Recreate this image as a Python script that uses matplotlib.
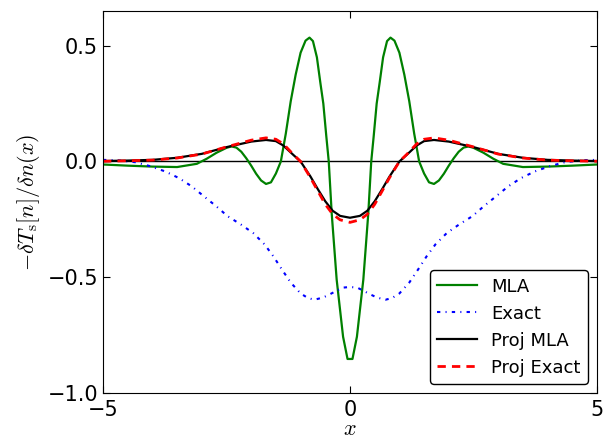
import numpy as np
import matplotlib
matplotlib.use("Agg")
import matplotlib.pyplot as plt

plt.rcParams['mathtext.fontset'] = 'cm'

# MLA functional derivative
x_mla = [-5.0, -4.5, -4.0, -3.5, -3.1, -2.9, -2.7, -2.5, -2.4, -2.3, -2.2, -2.1,
         -2.0, -1.9, -1.8, -1.7, -1.6, -1.5, -1.4, -1.3, -1.2, -1.1, -1.0, -0.9,
         -0.82, -0.75, -0.67, -0.6, -0.54, -0.48, -0.43, -0.37, -0.27, -0.14, -0.05,
         0.05, 0.14, 0.27, 0.37, 0.43, 0.48, 0.54, 0.6, 0.67, 0.75, 0.82,
         0.9, 1.0, 1.1, 1.2, 1.3, 1.4, 1.5, 1.6, 1.7, 1.8, 1.9, 2.0,
         2.1, 2.2, 2.3, 2.4, 2.5, 2.7, 2.9, 3.1, 3.5, 4.0, 4.5, 5.0]
y_mla = [-0.013, -0.018, -0.022, -0.024, -0.010, 0.012, 0.038, 0.059, 0.065, 0.060, 0.042, 0.014,
         -0.018, -0.053, -0.082, -0.097, -0.090, -0.052, 0.0, 0.12, 0.26, 0.375, 0.47, 0.522,
         0.535, 0.52, 0.45, 0.34, 0.25, 0.11, 0.0, -0.225, -0.51, -0.757, -0.853,
         -0.853, -0.757, -0.51, -0.225, 0.0, 0.11, 0.25, 0.34, 0.45, 0.52, 0.535,
         0.522, 0.47, 0.375, 0.26, 0.12, 0.0, -0.052, -0.090, -0.097, -0.082, -0.053, -0.018,
         0.014, 0.042, 0.060, 0.065, 0.059, 0.038, 0.012, -0.010, -0.024, -0.022, -0.018, -0.013]

# exact functional derivative
x_ex = [-5.0, -4.7, -4.35, -4.05, -3.74, -3.46, -3.2, -2.96, -2.71, -2.48, -2.21, -1.96,
        -1.73, -1.55, -1.38, -1.2, -1.0, -0.85, -0.72, -0.55, -0.42, -0.15, 0.0,
        0.15, 0.42, 0.55, 0.72, 0.85, 1.0, 1.2, 1.38, 1.55, 1.73, 1.96, 2.21,
        2.48, 2.71, 2.96, 3.2, 3.46, 3.74, 4.05, 4.35, 4.7, 5.0]
y_ex = [0.007, 0.005, -0.003, -0.020, -0.043, -0.072, -0.108, -0.150, -0.193, -0.236, -0.272, -0.309,
        -0.358, -0.410, -0.466, -0.523, -0.570, -0.590, -0.597, -0.588, -0.575, -0.545, -0.542,
        -0.545, -0.575, -0.588, -0.597, -0.590, -0.570, -0.523, -0.466, -0.410, -0.358, -0.309, -0.272,
        -0.236, -0.193, -0.150, -0.108, -0.072, -0.043, -0.020, -0.003, 0.005, 0.007]

# projected derivatives
x_proj = [-5.0, -4.5, -4.0, -3.5, -3.0, -2.5, -2.0, -1.7, -1.5, -1.35, -1.15, -1.0,
          -0.8, -0.65, -0.5, -0.35, -0.2, 0.0, 0.2, 0.35, 0.5, 0.65, 0.8,
          1.0, 1.15, 1.35, 1.5, 1.7, 2.0, 2.5, 3.0, 3.5, 4.0, 4.5, 5.0]
y_pmla = [0.002, 0.004, 0.007, 0.016, 0.033, 0.062, 0.086, 0.093, 0.088, 0.069, 0.029, 0.0,
          -0.065, -0.12, -0.172, -0.213, -0.235, -0.243, -0.235, -0.213, -0.172, -0.12, -0.065,
          0.0, 0.029, 0.069, 0.088, 0.093, 0.086, 0.062, 0.033, 0.016, 0.007, 0.004, 0.002]
y_pex = [0.001, 0.003, 0.006, 0.015, 0.032, 0.063, 0.092, 0.102, 0.096, 0.076, 0.031, 0.0,
         -0.07, -0.128, -0.185, -0.228, -0.252, -0.263, -0.252, -0.228, -0.185, -0.128, -0.07,
         0.0, 0.031, 0.076, 0.096, 0.102, 0.092, 0.063, 0.032, 0.015, 0.006, 0.003, 0.001]

fig = plt.figure(figsize=(6.15, 4.37), dpi=100)
ax = fig.add_axes([0.1675, 0.1007, 0.8032, 0.8741])

ax.axhline(0, color='k', lw=1)
ax.plot(x_mla, y_mla, color='g', lw=1.6, label='MLA')
ax.plot(x_ex, y_ex, color='b', lw=1.5, linestyle=(0, (1.6, 2.5, 0.5, 2.5)), label='Exact')
ax.plot(x_proj, y_pmla, color='k', lw=1.6, label='Proj MLA')
ax.plot(x_proj, y_pex, color='r', lw=2, linestyle=(0, (3, 2.2)), label='Proj Exact')

ax.set_xlim(-5, 5)
ax.set_ylim(-1.0, 0.65)
ax.set_xticks([-5, 0, 5])
ax.set_yticks([-1.0, -0.5, 0.0, 0.5])
ax.tick_params(direction='in', top=True, right=True, labelsize=15, length=5)
ax.tick_params(axis='x', pad=5)
ax.set_xlabel('$x$', fontsize=16, labelpad=-1)
ax.set_ylabel(r'$-\delta T_{\rm s}[n]/\delta n(x)$', fontsize=16, labelpad=4)

leg = ax.legend(loc='lower right', fontsize=13, framealpha=1, handlelength=2.2)
leg.get_frame().set_edgecolor('k')

fig.savefig('out.png', dpi=100)
